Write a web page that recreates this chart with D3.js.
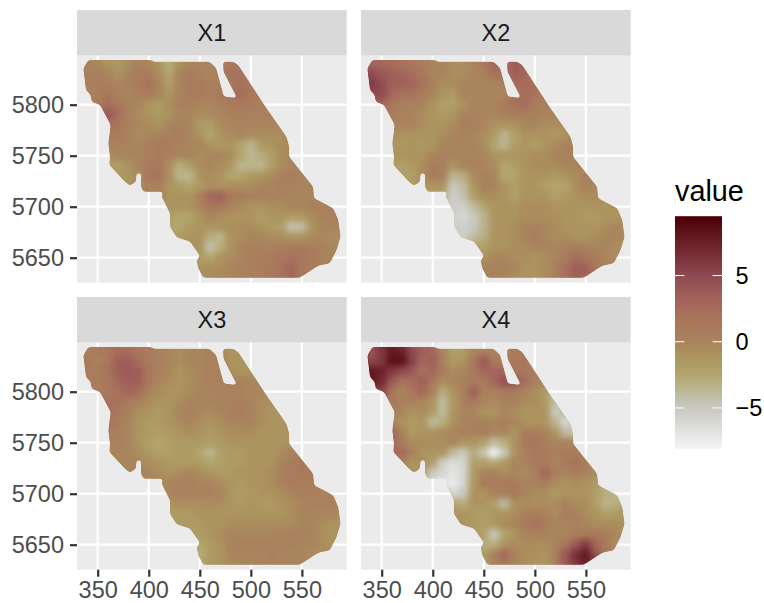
<!DOCTYPE html>
<html><head><meta charset="utf-8">
<script src="https://cdn.jsdelivr.net/npm/d3@7/dist/d3.min.js"></script>
<style>html,body{margin:0;padding:0;background:#fff}svg{display:block}text{font-family:"Liberation Sans",Arial,sans-serif}</style>
</head><body><svg id="c" width="764" height="603"></svg>
<script>
const panelNames = ["X1","X2","X3","X4"];
const xTicks = [350,400,450,500,550];
const yTicks = [5650,5700,5750,5800];
const legendTicks = [-5,0,5];
const legendTitle = "value";
const valueDomain = [-8.05,9.37];
const colorStops = [-8.05,-6,-5,-4,-2.5,-1,0,1.5,3,5,7,9.37];
const colorHex = ["#f4f4f4","#d6d6d4","#c9c9c1","#bfbca0","#b2a56c","#ac945f","#a9855d","#a9785c","#a4665b","#8f4a52","#732730","#4d0005"];
const rowY = [5840,5830,5820,5810,5800,5790,5780,5770,5760,5750,5740,5730,5720,5710,5700,5690,5680,5670,5660,5650,5640,5630];
const rowStartX = [340,340,340,340,350,360,360,360,360,360,360,370,380,410,420,420,420,430,440,450,450,450];
const regionX = [340.8,335.9,338.5,343.1,344.1,352.3,362.7,360.4,362,361.4,376.7,381.6,387.5,388,392.4,392.4,394.7,414.3,412.6,420.8,420.8,427.3,435.5,440.4,450.2,446.9,448.5,453.4,548,566,577.4,584,587.9,585.6,580.7,562,561,537.5,537.5,534.9,515.3,487.6,482.7,476.2,472.8,473.2,486.5,473.5,466,459.5,404.3,402.7];
const regionY = [5843.8,5835.6,5814.4,5809.5,5803,5799.7,5780,5762,5749,5741,5724.5,5720.6,5724.5,5732.7,5732.7,5719.6,5714.7,5714.7,5710,5693.5,5680.4,5670,5667.4,5665.8,5651.7,5647.7,5639.5,5630.4,5630.4,5642.2,5644.5,5657.6,5670.6,5687,5698.4,5708.2,5719.6,5749,5758.9,5768.7,5796.4,5839,5842.2,5842.2,5842,5832.4,5806.5,5808,5836,5842.2,5842.2,5843.8];

const valuesX1 = [
[.5,0,-1,-1.5,-.5,.5,0,-1,-3,-1,0,0,0,.5,1.5,1.5],
[.5,.5,0,-1,0,1,1,-.5,-2.5,0,1,.5,0,.5,2,2],
[.5,1,.5,0,.5,1,2,0,-2,0,1,1,.5,.5,1.5,2,1.5],
[.5,.5,1.5,.5,0,.5,1,0,-1,0,1,1,.5,1,2,2.5,1.5,1],
[1,2.5,1.5,.5,0,-1,-1.5,-.5,.5,.5,0,0,.5,1,1.5,1,.5],
[4,2.5,.5,-.5,-1,-1.5,-1,0,0,-.5,-.5,0,.5,.5,.5,.5,.5],
[2.5,1.5,.5,0,-.5,-1,0,.5,0,-1.5,-2,-.5,0,0,0,0,0,0],
[1,1,.5,-.5,0,.5,.5,1,0,-1,-2.5,-1,-.5,0,-.5,-.5,-.5,-.5],
[.5,.5,0,0,.5,1,1,.5,0,0,-1,-1.5,-1,-2.5,-3.5,-1.5,-1,-.5,0],
[-.5,0,0,0,.5,1,.5,0,0,-.5,0,0,-.5,-2.5,-3.5,-3,-2,-.5,0],
[-1.5,-2,-1,0,1,1.5,-.5,-3,-2,-.5,0,-.5,-1,-3.5,-3.5,-3.5,-2,-.5,0,0],
[-1.5,-1,-.5,1.5,2,-.5,-3.5,-3.5,-1,-.5,-1,-2.5,-2.5,-1.5,-1,-.5,.5,1,.5],
[-1,-.5,.5,.5,-1,-1.5,-2.5,-1.5,-.5,-1,-.5,-.5,-.5,0,0,.5,.5,0,0],
[.5,-1,-1,-1,.5,3,3.5,1.5,1,.5,.5,.5,.5,0,0,0],
[-1,-1,-1,0,1.5,1.5,.5,-.5,-1,-1,-.5,-.5,0,0,.5,.5,.5],
[-1.5,-2.5,-2.5,-1,0,-.5,-1,-1,-1,-2,-1,-1,-1.5,-1.5,-.5,.5,.5,.5],
[-2.5,-2.5,-1.5,-1,-1,-1,-.5,-.5,-.5,-1,-1.5,-2,-4.5,-4,-1,0,0,0],
[-1.5,-1,-1,-3,-3.5,-1,-.5,0,0,-.5,-.5,-1,-1,-.5,0,-.5,-.5],
[-.5,-1,-4.5,-3,-1,0,.5,.5,.5,1,1,1.5,1,.5,0,-.5],
[-1.5,-2.5,-1,-.5,0,.5,1,1,1.5,2,1.5,1,.5,0],
[-1,-.5,-.5,0,.5,.5,1,1,2,3,1.5,1,.5],
[-.5,-.5,0,0,.5,.5,1,1.5,2,3,1.5]];

const valuesX2 = [
[3,3,2.5,2,1.5,1,0,0,-.5,-.5,0,1,3,2.5,3.5,3.5],
[5,4,3.5,3,2.5,1.5,0,0,-.5,-.5,0,.5,2,2,3.5,3],
[6,5,3.5,3.5,3,2,.5,-.5,-.5,0,0,0,0,.5,2.5,2.5,2],
[5,5,3,2,2,1,0,-1,-1.5,0,0,0,0,0,2,2.5,2,1],
[3,1.5,.5,.5,0,-1,-2,-2,-1,0,0,0,1,2,2.5,1,.5],
[1,.5,.5,-.5,-1,-1.5,-1,0,.5,0,0,.5,1,.5,.5,0,0],
[.5,0,0,-.5,-1,-1,-.5,1,.5,0,-1,-1,-1,0,0,-.5,-.5,-.5],
[-.5,-1,-1,-1,-1,-.5,0,.5,0,-.5,-1.5,-3.5,-2,-1,-1,-1,-1.5,-1],
[-1,-1.5,-1,-1.5,-1,0,0,0,0,-.5,-2.5,-3.5,-2,-1,-2,-1,-.5,.5,1],
[-1,-1,-1,-1,0,.5,0,0,0,0,-1,-1,-1,-1,-.5,-.5,0,.5,.5],
[-2,-2,-1.5,-.5,1,.5,-1,0,.5,0,-.5,-2.5,-2,-1,-.5,-.5,-.5,0,0,0],
[-2,-2,-.5,1,.5,-3.5,-3,-.5,.5,0,-2.5,-2.5,-1,-1,-1,-1.5,-1,-.5,.5],
[-1.5,-1,-1,-1,-5,-4,-1,.5,0,-1,-2,-1,-1,-2,-2.5,-2.5,-.5,.5,0],
[-3,-5.5,-4.5,-2,-.5,-.5,-1,-2,-1,-1,-1,-2,-1.5,-1,-.5,-.5],
[-5.5,-5.5,-4,-2.5,-1,-1,-1,-.5,-.5,-.5,-1,-1,-1,-1,-1,-1,-1],
[-5.5,-6,-5,-3.5,-1,-1,-1,-.5,-.5,-.5,-.5,-1,-1,-1.5,-1.5,-1,-1,-.5],
[-5.5,-5.5,-5,-3.5,-1,-1,-.5,0,.5,0,-.5,-1,-1,-1,-1,-.5,0,-.5],
[-5.5,-4,-3,-1,-1,-.5,0,1,0,-.5,-.5,-1,-1,-.5,0,0,-.5],
[-2,-2,-1,-1,-.5,-.5,0,0,0,.5,1,.5,0,0,-.5,-.5],
[-1,0,0,-.5,-.5,-1,-.5,0,1,2.5,1.5,1,0,-.5],
[0,.5,.5,0,-1,-1,-.5,.5,2,3.5,3.5,1.5,.5],
[0,.5,0,-.5,-1,-1,-.5,.5,2,3.5,3]];

const valuesX3 = [
[1,1,1.5,2.5,2.5,1.5,1,.5,0,-.5,0,0,.5,.5,-1,-1],
[1,.5,1.5,3.5,3.5,2.5,1,.5,0,-.5,0,0,.5,.5,-1,-1],
[1,1,2,3.5,4,3.5,1.5,.5,0,-1,-.5,0,.5,.5,-.5,-1,-1],
[1,1,1.5,3,3.5,3.5,1.5,0,-.5,-1,-.5,0,.5,.5,.5,.5,0,0],
[1,1.5,2,3,2.5,.5,-.5,-1,-1,-.5,0,0,.5,.5,.5,0,0],
[2,2,1,.5,-.5,-1,-1,-.5,0,0,0,.5,.5,.5,0,-.5,-.5],
[2,1.5,.5,-.5,-1,-1.5,-1,0,.5,0,-.5,0,.5,1,.5,-.5,-1,-1],
[2,1,0,-1,-1.5,-1.5,-1,-.5,0,-.5,-1,-.5,0,.5,0,-.5,-1,-1],
[1,.5,0,-1,-1.5,-2,-1.5,-1,-.5,-1,-1.5,-1,-.5,-.5,-.5,-1,-1,-1,-1],
[.5,.5,0,-1,-2,-2.5,-2,-1.5,-1.5,-1.5,-2,-1.5,-1,-1,-1,-1,-1,-1,-.5],
[0,0,0,-.5,-1.5,-2,-2,-1.5,-1.5,-2.5,-3.5,-2,-1.5,-1.5,-1,-1,-1,-.5,.5,.5],
[0,0,0,-.5,-1,-1.5,-1.5,-1.5,-1.5,-2.5,-2,-1.5,-1.5,-1,-1,-1,0,1,1.5],
[0,0,0,-.5,-1,-.5,0,-.5,-1,-1.5,-1.5,-1,-1,-1,-.5,.5,1,1.5,1],
[0,0,.5,.5,0,0,-.5,-1,-1.5,-1,-1,-.5,.5,1,1,1],
[0,.5,.5,.5,.5,0,-1,-1.5,-1.5,-1,-1,-.5,0,.5,.5,.5,.5],
[-1,-.5,-.5,-.5,-.5,-.5,-1,-1.5,-1,-1.5,-1.5,-1,-.5,0,.5,.5,.5,0],
[-1.5,-1.5,-1.5,-1,-1,-1,-1,-1,-1,-1,-1,-1,-.5,0,0,0,0,-.5],
[-1.5,-1.5,-1.5,-1,-1,-.5,-.5,-.5,-.5,-.5,-.5,-.5,0,0,-.5,-1,-1],
[-1.5,-1.5,-1,-.5,0,0,0,0,0,.5,.5,.5,0,-.5,-1,-1],
[-2.5,-1.5,-1,0,.5,.5,.5,.5,.5,.5,0,0,-.5,-1],
[-3,-1.5,-1,0,0,0,0,.5,0,0,0,-.5,-.5],
[-2.5,-1.5,-1,-.5,0,0,0,0,0,0,0]];

const valuesX4 = [
[4,6,8,7.5,5,3.5,3,0,-2,-2,0,0,0,.5,1,1.5],
[5,6,8.5,8.5,5.5,3,3.5,.5,-1.5,-1,1.5,4,1.5,.5,1.5,1.5],
[8,7.5,6,5,4,2,3,1,-.5,0,1.5,3,3,3,1.5,1.5,1],
[8,7,4,2,2.5,3.5,1.5,-.5,0,.5,1,1,3,4.5,4.5,2.5,.5,0],
[5.5,1.5,0,1.5,3,.5,-3,-1,.5,3.5,.5,.5,1.5,1,.5,-.5,-1.5],
[1.5,.5,.5,0,-1,-4,-1.5,.5,1.5,0,-.5,.5,.5,-.5,-.5,-1.5,-4],
[.5,0,-1,-.5,-1.5,-4,-1,0,0,-1,-1,0,-.5,-1,-1,-1,-5,-4],
[0,-1,-1.5,-1,-4,-3,-1,.5,.5,.5,0,1,0,-1,-1,-1,-3.5,-6],
[3,.5,-1.5,-1,-1,-.5,0,.5,.5,1,0,0,-1,1,1,0,-1,-4,-4.5],
[3,1,-.5,-.5,-.5,-.5,0,-1,-1,-2,-4,-3,-1,1.5,1.5,1,0,0,0],
[3,2.5,.5,-1,-1,-1,-4,-5,-3,-4.5,-8,-5,-1,.5,1.5,1,.5,1,1,0],
[1,-1,-.5,-2,-5.5,-6.5,-6,-2,-2,-2.5,-1.5,0,0,1,1.5,0,1,2,1],
[-1,-2,-5,-6,-7,-6,-1.5,0,.5,-.5,0,-.5,.5,3,1,0,1,0,-.5],
[-7,-7.5,-6,-1.5,1.5,1,1.5,1,0,.5,1,-.5,-1,-.5,-1,-1.5],
[-6,-5,-1,-1,.5,.5,1.5,.5,-.5,-.5,-1.5,-1,-1,-1,-2,-3,-3.5],
[-2,-3,-1,-1,-2,-4,-1,-.5,-.5,-.5,-.5,.5,-.5,-.5,-2,-3.5,-3,-2],
[-1,-1,-1.5,-2,-1,-1,-.5,.5,1,.5,-.5,1,.5,-.5,-1,-2,-1.5,-1],
[-1,-1.5,-2,-1.5,-.5,0,1,2,1,0,0,.5,0,-.5,-.5,-.5,-1],
[-1.5,-2,-5,-2.5,-1,0,.5,.5,0,0,.5,1,1.5,1,0,-1],
[-3,-3,-1,-.5,-.5,-.5,-.5,0,1.5,4,6,3,1,-.5],
[-1.5,.5,3,.5,-.5,-.5,-1,.5,4,6.5,8,4.5,1],
[-1.5,0,1.5,0,-.5,-1,-1,.5,4,6,7.5]];

const panelValues = [valuesX1,valuesX2,valuesX3,valuesX4];

const svg = d3.select("#c");
const color = d3.scaleLinear().domain(colorStops).range(colorHex).interpolate(d3.interpolateLab).clamp(true);
const panelLefts = [77,361], panelTops = [55.7,342.7], panelW = 269.7, panelH = 227, stripH = 45.7;
const cellStep = 10;
const xScale = d3.scaleLinear().domain([350,550]).range([20.7,224.9]);
const yScale = d3.scaleLinear().domain([5800,5650]).range([49,202]);
const defs = svg.append("defs");
const blur = defs.append("filter").attr("id","soft").attr("filterUnits","userSpaceOnUse")
  .attr("x",0).attr("y",0).attr("width",panelW).attr("height",panelH).attr("color-interpolation-filters","sRGB");
blur.append("feGaussianBlur").attr("stdDeviation",3.2);
const rounder = defs.append("filter").attr("id","round").attr("filterUnits","userSpaceOnUse")
  .attr("x",0).attr("y",0).attr("width",panelW).attr("height",panelH).attr("color-interpolation-filters","sRGB");
rounder.append("feGaussianBlur").attr("stdDeviation",1.7);
rounder.append("feComponentTransfer").append("feFuncA").attr("type","linear").attr("slope",5).attr("intercept",-2);
const regionPath = d3.line().x(i=>xScale(regionX[i])).y(i=>yScale(regionY[i])).curve(d3.curveLinearClosed)(d3.range(regionX.length));
defs.append("mask").attr("id","region").attr("maskUnits","userSpaceOnUse")
  .attr("x",0).attr("y",0).attr("width",panelW).attr("height",panelH)
  .append("path").attr("d",regionPath).attr("fill","#fff").attr("filter","url(#round)");

const cells = vals => vals.flatMap((row,r)=>row.map((v,c)=>({x:rowStartX[r]+c*cellStep,y:rowY[r],v})));

panelNames.forEach((name,i)=>{
  const col=i%2,row=Math.floor(i/2);
  const g=svg.append("g").attr("transform",`translate(${panelLefts[col]},${panelTops[row]})`);
  g.append("rect").attr("y",-stripH).attr("width",panelW).attr("height",stripH).attr("fill","#d9d9d9");
  g.append("text").attr("x",panelW/2).attr("y",-stripH/2).attr("dy","0.36em").attr("text-anchor","middle")
    .attr("font-size",23.5).attr("fill","#1a1a1a").text(name);
  g.append("rect").attr("width",panelW).attr("height",panelH).attr("fill","#ebebeb");
  const grid=g.append("g").attr("stroke","#fff").attr("stroke-width",2.2);
  grid.selectAll("line.v").data(xTicks).join("line").attr("x1",d=>xScale(d)).attr("x2",d=>xScale(d)).attr("y1",0).attr("y2",panelH);
  grid.selectAll("line.h").data(yTicks).join("line").attr("y1",d=>yScale(d)).attr("y2",d=>yScale(d)).attr("x1",0).attr("x2",panelW);
  const cs=cells(panelValues[i]);
  const masked=g.append("g").attr("mask","url(#region)");
  const soft=masked.append("g").attr("filter","url(#soft)");
  const pw=Math.abs(xScale(cellStep)-xScale(0)),ph=Math.abs(yScale(0)-yScale(cellStep));
  soft.append("g").selectAll("rect").data(cs).join("rect")
    .attr("x",d=>xScale(d.x)-pw*1.5).attr("y",d=>yScale(d.y)-ph*1.5).attr("width",pw*3).attr("height",ph*3).attr("fill",d=>color(d.v));
  soft.append("g").selectAll("rect").data(cs).join("rect")
    .attr("x",d=>xScale(d.x)-pw/2-.2).attr("y",d=>yScale(d.y)-ph/2-.2).attr("width",pw+.4).attr("height",ph+.4).attr("fill",d=>color(d.v));
  if(row===1){
    const ax=g.append("g").attr("transform",`translate(0,${panelH})`).call(d3.axisBottom(xScale).tickValues(xTicks).tickSize(7).tickPadding(5).tickFormat(d3.format("d")));
    styleAxis(ax);
  }
  if(col===0){
    const ay=g.append("g").call(d3.axisLeft(yScale).tickValues(yTicks).tickSize(7).tickPadding(6).tickFormat(d3.format("d")));
    styleAxis(ay);
  }
});
function styleAxis(a){
  a.select(".domain").remove();
  a.selectAll(".tick line").attr("stroke","#333").attr("stroke-width",2.2);
  a.selectAll(".tick text").attr("fill","#4d4d4d").attr("font-size",23.5).attr("font-family",'"Liberation Sans",Arial,sans-serif');
}
// legend
const legY=d3.scaleLinear().domain(valueDomain).range([448.3,217.7]);
const leg=svg.append("g");
leg.append("text").attr("x",675).attr("y",201).attr("font-size",28.8).attr("fill","#000").text(legendTitle);
const legendSteps=d3.range(0,231).map(k=>valueDomain[0]+k*(valueDomain[1]-valueDomain[0])/230);
leg.selectAll("rect").data(legendSteps).join("rect").attr("x",675).attr("width",47)
  .attr("y",d=>legY(d)-1.5).attr("height",2).attr("fill",d=>color(d));
legendTicks.forEach(t=>{
  leg.append("line").attr("x1",675).attr("x2",684.4).attr("y1",legY(t)).attr("y2",legY(t)).attr("stroke","#fff").attr("stroke-width",1);
  leg.append("line").attr("x1",712.6).attr("x2",722).attr("y1",legY(t)).attr("y2",legY(t)).attr("stroke","#fff").attr("stroke-width",1);
  leg.append("text").attr("x",735.5).attr("y",legY(t)).attr("dy","0.36em").attr("font-size",23.5).attr("fill","#000").text(t<0?"\u2212"+Math.abs(t):t);
});
</script></body></html>
